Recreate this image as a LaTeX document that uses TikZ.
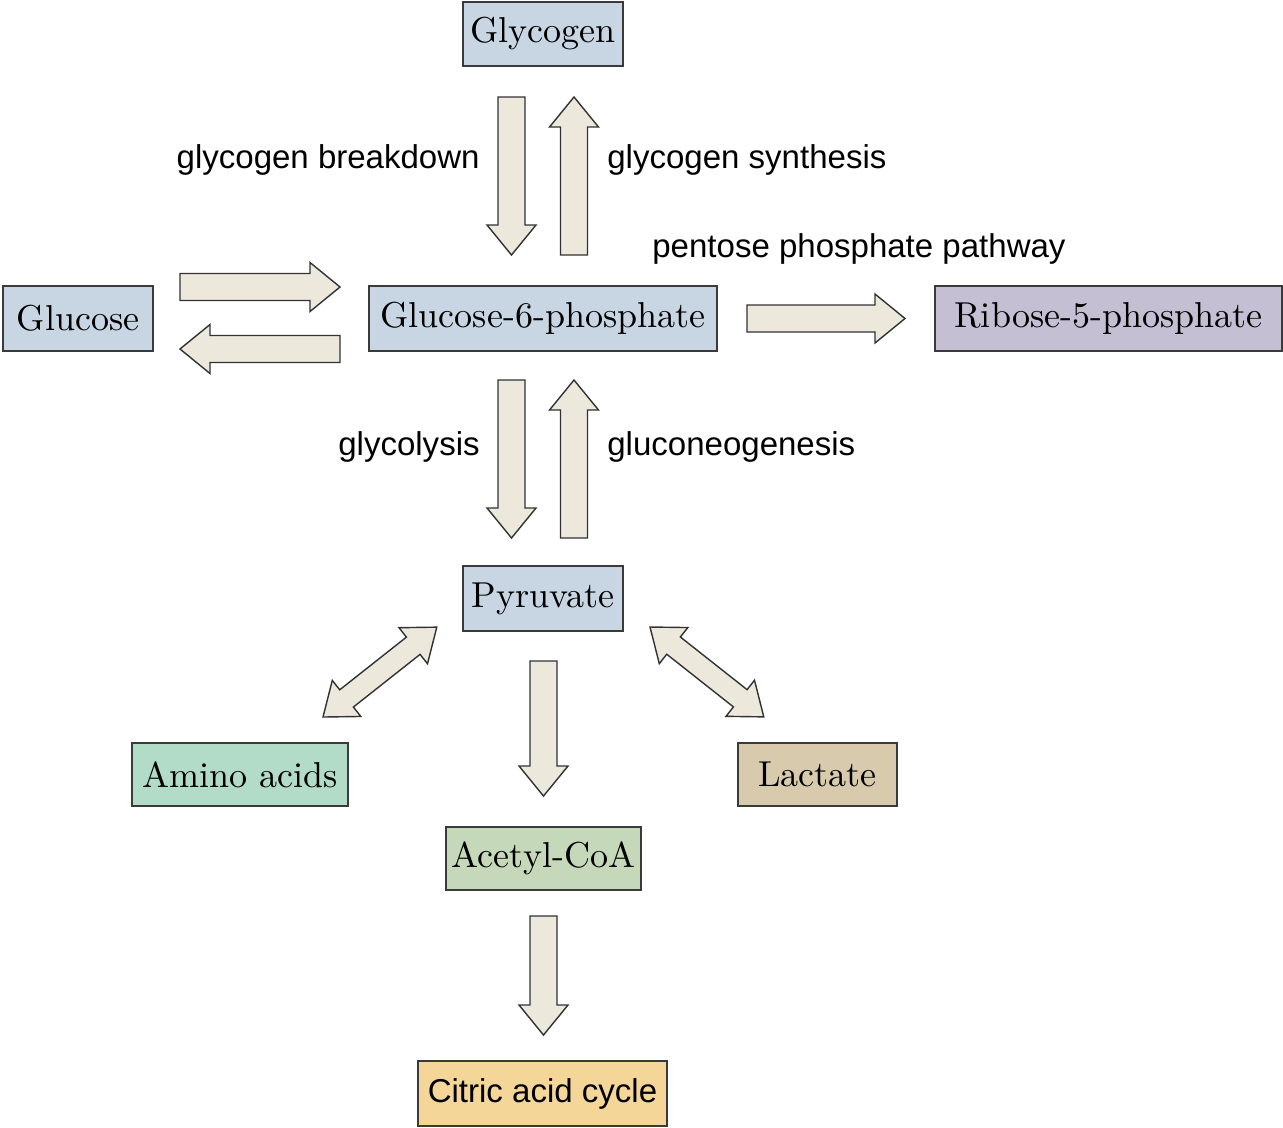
\documentclass[tikz,border=0pt]{standalone}
\usepackage{fontspec}
\newfontfamily\labfont{Liberation Sans}
\newfontfamily\boxfont{lmroman10-regular}[Extension=.otf]
\definecolor{bluebox}{RGB}{200,214,228}
\definecolor{ribbox}{RGB}{196,191,210}
\definecolor{aminobox}{RGB}{178,220,200}
\definecolor{lactbox}{RGB}{216,203,173}
\definecolor{acetbox}{RGB}{198,216,186}
\definecolor{citbox}{RGB}{243,214,152}
\definecolor{arrfill}{RGB}{236,232,220}
\definecolor{boxline}{RGB}{58,58,58}
\definecolor{arrline}{RGB}{50,50,50}
\newcommand\sarr[3]{\begin{scope}[shift={#1},rotate=#2]
\draw[blk] (0,-13.5)--({#3-30},-13.5)--({#3-30},-24.5)--(#3,0)--({#3-30},24.5)--({#3-30},13.5)--(0,13.5)--cycle;
\end{scope}}
\newcommand\darr[3]{\begin{scope}[shift={#1},rotate=#2]
\draw[blk] (0,0)--(30,-23)--(30,-11)--({#3-30},-11)--({#3-30},-23)--(#3,0)--({#3-30},23)--({#3-30},11)--(30,11)--(30,23)--cycle;
\end{scope}}
\begin{document}
\begin{tikzpicture}[x=0.02cm,y=-0.02cm,
  box/.style={draw=boxline, line width=0.8pt, inner sep=0pt, font=\boxfont\fontsize{20.5}{24}\selectfont},
  lab/.style={font=\labfont\fontsize{18.8}{22}\selectfont, inner sep=0pt},
  blk/.style={draw=arrline, fill=arrfill, line width=0.8pt, line join=miter}]
\path[use as bounding box] (0,0) rectangle (1283,1127);

% boxes
\node[box, fill=bluebox, minimum width=3.2cm, minimum height=1.28cm] (glycogen) at (543,34) {Glycogen};
\node[box, fill=bluebox, minimum width=3.0cm, minimum height=1.3cm] (glucose) at (78,318.5) {Glucose};
\node[box, fill=bluebox, minimum width=6.96cm, minimum height=1.3cm] (g6p) at (543,318.5) {Glucose-6-phosphate};
\node[box, fill=ribbox, minimum width=6.94cm, minimum height=1.3cm] (r5p) at (1108.5,318.5) {Ribose-5-phosphate};
\node[box, fill=bluebox, minimum width=3.2cm, minimum height=1.3cm] (pyruvate) at (543,598.5) {Pyruvate};
\node[box, fill=aminobox, minimum width=4.32cm, minimum height=1.26cm] (amino) at (240,774.5) {Amino acids};
\node[box, fill=lactbox, minimum width=3.18cm, minimum height=1.26cm] (lactate) at (817.5,774.5) {Lactate};
\node[box, fill=acetbox, minimum width=3.9cm, minimum height=1.26cm] (acetyl) at (543.5,858.5) {Acetyl-CoA};
\node[box, fill=citbox, minimum width=4.98cm, minimum height=1.3cm, font=\labfont\fontsize{18.8}{22}\selectfont] (citric) at (542.5,1093.5) {Citric acid cycle};

% arrow anchor coordinates
\coordinate (aBreak) at (511.5,97);
\coordinate (aSynth) at (574,255);
\coordinate (aGlcIn) at (180,287);
\coordinate (aGlcOut) at (340,349);
\coordinate (aPent) at (747,318.5);
\coordinate (aGlyc) at (511.5,380);
\coordinate (aGluco) at (574,538);
\coordinate (aPyrAc) at (543.5,661);
\coordinate (aAcCit) at (543.5,916);
\coordinate (aAmino) at (323,717);
\coordinate (aLact) at (650,627);

\sarr{(aBreak)}{-90}{158}
\sarr{(aSynth)}{90}{158}
\sarr{(aGlcIn)}{0}{160}
\sarr{(aGlcOut)}{180}{160}
\sarr{(aPent)}{0}{158}
\sarr{(aGlyc)}{-90}{158}
\sarr{(aGluco)}{90}{158}
\sarr{(aPyrAc)}{-90}{135}
\sarr{(aAcCit)}{-90}{119}
\darr{(aAmino)}{38.3}{145}
\darr{(aLact)}{-38.3}{145}

% labels
\node[lab, anchor=east] (lBreak) at (480,160) {glycogen breakdown};
\node[lab, anchor=west] (lSynth) at (607,160) {glycogen synthesis};
\node[lab, anchor=west] (lPent) at (652,249) {pentose phosphate pathway};
\node[lab, anchor=east] (lGlyc) at (480,447) {glycolysis};
\node[lab, anchor=west] (lGluco) at (607,447) {gluconeogenesis};
\end{tikzpicture}
\end{document}
